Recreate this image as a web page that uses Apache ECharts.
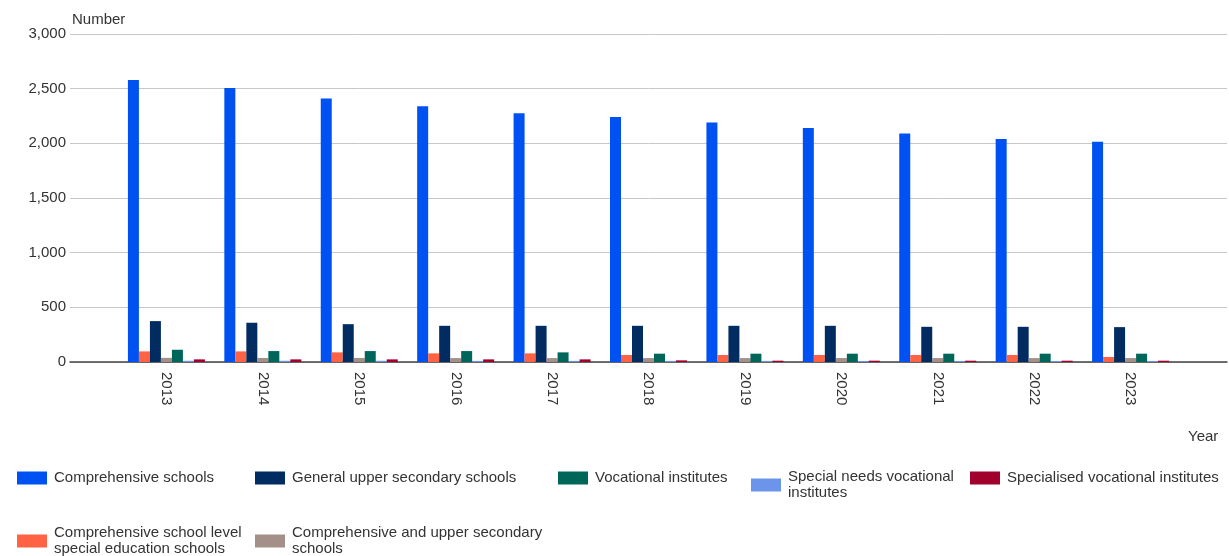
<!DOCTYPE html>
<html>
<head>
<meta charset="utf-8">
<script src="https://cdn.jsdelivr.net/npm/echarts@6/dist/echarts.min.js"></script>
<style>html,body{margin:0;padding:0;background:#fff}#c{width:1229px;height:556px}</style>
</head>
<body>
<div id="c"></div>
<script>
const years = ['2013','2014','2015','2016','2017','2018','2019','2020','2021','2022','2023'];
const comprehensive = [2580, 2505, 2410, 2340, 2275, 2240, 2190, 2140, 2090, 2040, 2015];
const specialEducation = [97, 97, 88, 79, 79, 64, 64, 64, 64, 64, 46];
const generalUpperSecondary = [374, 359, 346, 331, 331, 331, 331, 331, 322, 322, 319];
const compAndUpperSecondary = [38, 37, 37, 36, 36, 36, 36, 36, 36, 36, 36];
const vocational = [112, 100, 100, 100, 88, 76, 76, 76, 76, 76, 76];
const specialNeedsVocational = [11, 11, 11, 10, 10, 10, 10, 9, 9, 9, 9];
const specialisedVocational = [24, 24, 24, 24, 24, 15, 12, 12, 12, 12, 12];
const yTicks = [0, 500, 1000, 1500, 2000, 2500, 3000];

const names = {
  comp: 'Comprehensive schools',
  spec: 'Comprehensive school level\nspecial education schools',
  gen: 'General upper secondary schools',
  cau: 'Comprehensive and upper secondary\nschools',
  voc: 'Vocational institutes',
  snv: 'Special needs vocational\ninstitutes',
  sv: 'Specialised vocational institutes'
};
const colors = {
  comp: '#0051f2', spec: '#ff6343', gen: '#002c61', cau: '#a59089',
  voc: '#00665a', snv: '#6b94ea', sv: '#a1002c'
};
const order = [
  ['comp', comprehensive], ['spec', specialEducation], ['gen', generalUpperSecondary],
  ['cau', compAndUpperSecondary], ['voc', vocational], ['snv', specialNeedsVocational],
  ['sv', specialisedVocational]
];
const pad = arr => [null].concat(arr, [null]);
const FONT = 'Liberation Sans, Arial, sans-serif';

const series = order.map(([k, arr]) => ({
  name: names[k], type: 'bar', data: pad(arr), barWidth: 11, barGap: '0%',
  itemStyle: { color: colors[k] }, emphasis: { disabled: true }
}));

const legendPos = [
  ['comp', 17, 470], ['gen', 255, 470], ['voc', 558, 470], ['snv', 751, 469], ['sv', 970, 470],
  ['spec', 17, 525], ['cau', 255, 525]
];
const legends = legendPos.map(([k, x, y]) => ({
  data: [names[k]], left: x, top: y, padding: 0, itemWidth: 30, itemHeight: 13,
  icon: 'rect', selectedMode: false,
  textStyle: { fontFamily: FONT, fontSize: 15, color: '#333', lineHeight: 16, padding: [0, 0, 0, 2] }
}));

const chart = echarts.init(document.getElementById('c'), null, { renderer: 'canvas' });
chart.setOption({
  animation: false,
  backgroundColor: '#fff',
  grid: { left: 70, right: 2, top: 34, bottom: 194, containLabel: false },
  legend: legends,
  xAxis: {
    type: 'category', data: [''].concat(years, ['']), boundaryGap: false,
    axisLine: { lineStyle: { color: '#444', width: 1.5 } },
    axisTick: { show: false },
    axisLabel: { interval: 0, rotate: -90, margin: 10, fontFamily: FONT, fontSize: 15, color: '#333' },
    splitLine: { show: false }
  },
  yAxis: {
    type: 'value', min: yTicks[0], max: yTicks[yTicks.length - 1], interval: 500,
    name: 'Number', nameLocation: 'end', nameGap: 7,
    nameTextStyle: { fontFamily: FONT, fontSize: 15, color: '#333', align: 'left', verticalAlign: 'bottom', padding: [0, 0, 0, 2] },
    axisLine: { show: false }, axisTick: { show: false },
    axisLabel: { margin: 4, fontFamily: FONT, fontSize: 15, color: '#333',
      formatter: v => v.toLocaleString('en-US') },
    splitLine: { lineStyle: { color: '#c8c8c8', width: 1 } }
  },
  graphic: [{
    type: 'text', left: 1188, top: 429,
    style: { text: 'Year', fontFamily: FONT, fontSize: 15, fill: '#333' }
  }],
  series: series
});
</script>
</body>
</html>
